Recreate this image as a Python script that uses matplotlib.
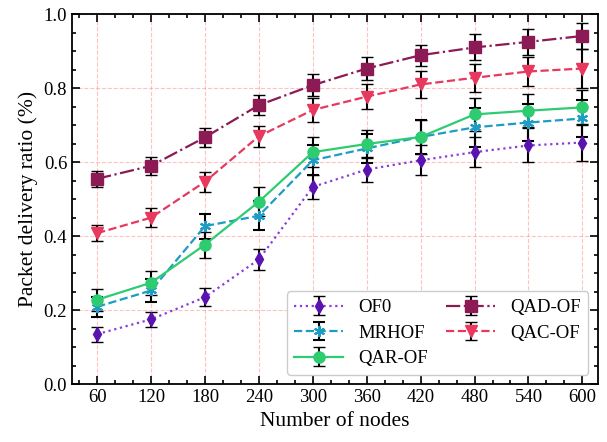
import numpy as np
import matplotlib
matplotlib.use("Agg")
import matplotlib.pyplot as plt
from matplotlib.ticker import MultipleLocator

plt.rcParams["font.family"] = ["Liberation Serif", "DejaVu Serif"]
plt.rcParams["mathtext.fontset"] = "stix"

nodes = [60, 120, 180, 240, 300, 360, 420, 480, 540, 600]

of0 = [0.135, 0.175, 0.235, 0.337, 0.533, 0.580, 0.605, 0.627, 0.645, 0.653]
of0_err = [0.020, 0.020, 0.024, 0.028, 0.033, 0.035, 0.040, 0.040, 0.046, 0.050]

mrhof = [0.209, 0.253, 0.427, 0.455, 0.605, 0.637, 0.668, 0.694, 0.707, 0.718]
mrhof_err = [0.027, 0.032, 0.034, 0.039, 0.040, 0.039, 0.045, 0.052, 0.050, 0.050]

qar = [0.228, 0.274, 0.377, 0.493, 0.627, 0.649, 0.668, 0.729, 0.739, 0.748]
qar_err = [0.030, 0.032, 0.035, 0.039, 0.040, 0.037, 0.047, 0.045, 0.044, 0.047]

qad = [0.555, 0.590, 0.667, 0.754, 0.808, 0.853, 0.889, 0.910, 0.925, 0.941]
qad_err = [0.022, 0.024, 0.026, 0.027, 0.029, 0.030, 0.028, 0.035, 0.036, 0.036]

qac = [0.408, 0.450, 0.547, 0.670, 0.741, 0.777, 0.810, 0.828, 0.845, 0.853]
qac_err = [0.022, 0.025, 0.027, 0.029, 0.032, 0.034, 0.036, 0.038, 0.040, 0.052]

series = [
    ("OF0", of0, of0_err, "#8a3ddb", "#5b13b0", "d", ":"),
    ("MRHOF", mrhof, mrhof_err, "#1f9cc4", "#1f9cc4", (6, 2, 0), "--"),
    ("QAR-OF", qar, qar_err, "#2ecc71", "#2ecc71", "o", "-"),
    ("QAD-OF", qad, qad_err, "#8b1a55", "#8b1a55", "s", "-."),
    ("QAC-OF", qac, qac_err, "#e8385e", "#e8385e", "v", "--"),
]

fig = plt.figure(figsize=(6.07, 4.42), dpi=100)
ax = fig.add_axes([0.1186, 0.131, 0.866, 0.837])

for label, y, err, lc, mc, mk, ls in series:
    ax.errorbar(nodes, y, yerr=err, label=label, color=lc, linestyle=ls,
                linewidth=1.6, marker=mk, markersize=8 if mk != "d" else 7,
                markerfacecolor=mc, markeredgecolor=mc,
                markeredgewidth=1.5 if mk == (6, 2, 0) else 1.0,
                ecolor="black", elinewidth=1.5, capsize=4, capthick=1.2,
                zorder=3)

ax.set_xlim(32, 617)
ax.set_ylim(0, 1.0)
ax.set_xticks(nodes)
ax.xaxis.set_minor_locator(MultipleLocator(20))
ax.yaxis.set_major_locator(MultipleLocator(0.2))
ax.yaxis.set_minor_locator(MultipleLocator(0.05))
ax.tick_params(which="both", direction="in", top=True, right=True,
               labelsize=13.5, width=1.2)
ax.tick_params(which="major", length=6)
ax.tick_params(which="minor", length=3)
for sp in ax.spines.values():
    sp.set_linewidth(1.3)

ax.grid(True, which="major", color="#ff9999", linestyle="--",
        linewidth=0.8, alpha=0.6)

ax.set_xlabel("Number of nodes", fontsize=15.5)
ax.set_ylabel("Packet delivery ratio (%)", fontsize=15.5)

leg = ax.legend(loc="lower right", ncol=2, fontsize=13.5, frameon=True,
                fancybox=True, framealpha=1.0, edgecolor="#cccccc",
                handlelength=2.6, columnspacing=1.0, labelspacing=0.45,
                borderaxespad=0.5)

fig.savefig("out.png", dpi=100)
